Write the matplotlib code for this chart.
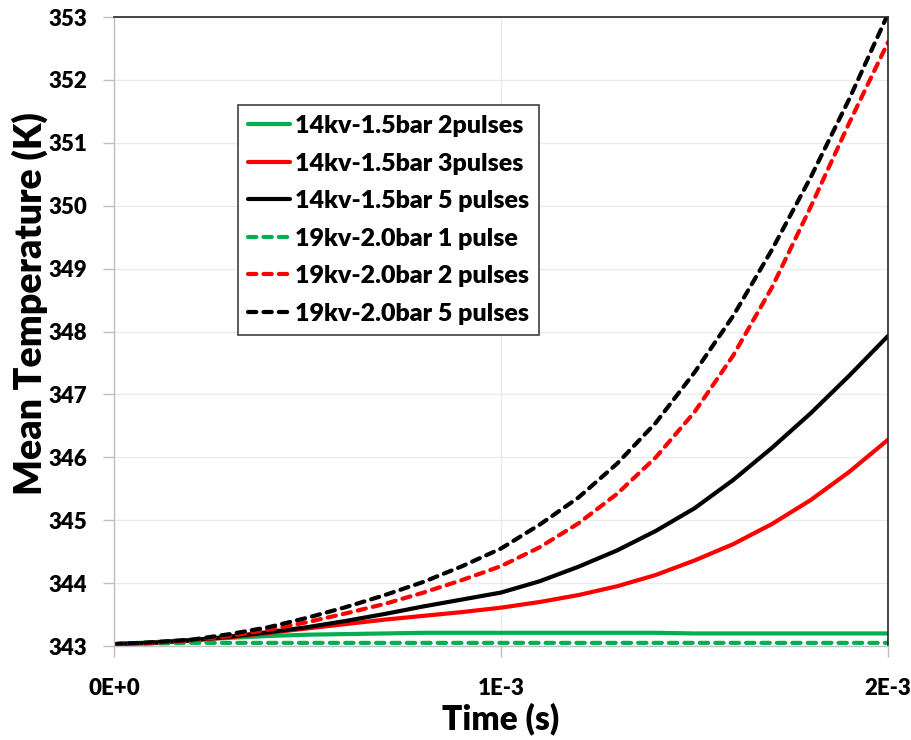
import matplotlib
matplotlib.use('Agg')
import matplotlib.pyplot as plt

plt.rcParams['font.family'] = ['Lato', 'DejaVu Sans']
plt.rcParams['font.weight'] = 'bold'

# time in ms (converted to s when plotting)
time_ms = [0.0, 0.1, 0.2, 0.3, 0.4, 0.5, 0.6, 0.7, 0.8, 0.9, 1.0,
           1.1, 1.2, 1.3, 1.4, 1.5, 1.6, 1.7, 1.8, 1.9, 2.0]

t14_2p = [343.03, 343.06, 343.10, 343.13, 343.16, 343.18, 343.19, 343.20,
          343.21, 343.21, 343.21, 343.21, 343.21, 343.21, 343.21, 343.20,
          343.20, 343.20, 343.20, 343.20, 343.20]
t14_3p = [343.03, 343.05, 343.09, 343.14, 343.21, 343.28, 343.35, 343.42,
          343.48, 343.54, 343.61, 343.70, 343.81, 343.95, 344.13, 344.36,
          344.62, 344.94, 345.32, 345.77, 346.28]
t14_5p = [343.03, 343.05, 343.09, 343.15, 343.22, 343.30, 343.40, 343.51,
          343.63, 343.74, 343.85, 344.03, 344.26, 344.52, 344.83, 345.19,
          345.64, 346.15, 346.70, 347.30, 347.93]
t19_1p = [343.03, 343.04, 343.05, 343.05, 343.05, 343.05, 343.05, 343.05,
          343.05, 343.05, 343.05, 343.05, 343.05, 343.05, 343.05, 343.05,
          343.05, 343.05, 343.05, 343.05, 343.05]
t19_2p = [343.03, 343.05, 343.09, 343.16, 343.26, 343.38, 343.52, 343.67,
          343.85, 344.05, 344.27, 344.57, 344.95, 345.42, 346.00, 346.72,
          347.62, 348.70, 349.98, 351.32, 352.60]
t19_5p = [343.03, 343.06, 343.10, 343.19, 343.30, 343.45, 343.62, 343.81,
          344.02, 344.27, 344.55, 344.93, 345.36, 345.90, 346.55, 347.35,
          348.25, 349.30, 350.45, 351.70, 353.05]

series = [
    ('14kv-1.5bar 2pulses', t14_2p, '#00B050', '-'),
    ('14kv-1.5bar 3pulses', t14_3p, '#FF0000', '-'),
    ('14kv-1.5bar 5 pulses', t14_5p, '#000000', '-'),
    ('19kv-2.0bar 1 pulse', t19_1p, '#00B050', '--'),
    ('19kv-2.0bar 2 pulses', t19_2p, '#FF0000', '--'),
    ('19kv-2.0bar 5 pulses', t19_5p, '#000000', '--'),
]

x_ticks = [0.0, 1e-3, 2e-3]
x_tick_labels = ['0E+0', '1E-3', '2E-3']
y_ticks = list(range(343, 354))

fig = plt.figure(figsize=(9.11, 7.4), dpi=100)
ax = fig.add_axes([0.1251, 0.127, 0.8497, 0.850])

t_s = [t * 1e-3 for t in time_ms]
for label, vals, color, ls in series:
    line, = ax.plot(t_s, vals, color=color, lw=3.0, label=label,
                    solid_capstyle='round', dash_capstyle='round',
                    solid_joinstyle='round')
    if ls == '--':
        line.set_dashes((2.0, 1.7))

ax.set_xlim(0, 2e-3)
ax.set_ylim(343, 353)
ax.set_xticks(x_ticks)
ax.set_xticklabels(x_tick_labels)
ax.set_yticks(y_ticks)

ax.grid(True, color='#EBEBEB', lw=1.0)
ax.set_axisbelow(True)

for side in ['left', 'bottom']:
    ax.spines[side].set_color('#BFBFBF')
    ax.spines[side].set_linewidth(1.0)
for side in ['top', 'right']:
    ax.spines[side].set_color('#262626')
    ax.spines[side].set_linewidth(1.2)

ax.tick_params(axis='both', direction='out', length=8, width=1,
               color='#BFBFBF', labelsize=16)
ax.tick_params(axis='y', pad=11)
ax.tick_params(axis='x', pad=15)
for lab in ax.get_xticklabels() + ax.get_yticklabels():
    lab.set_fontweight('heavy')

ax.set_xlabel('Time (s)', fontsize=24, fontweight='heavy')
ax.set_ylabel('Mean Temperature (K)', fontsize=27, fontweight='heavy')
ax.xaxis.set_label_coords(0.5, -0.09)
ax.yaxis.set_label_coords(-0.085, 0.545)

leg = ax.legend(loc='upper left', bbox_to_anchor=(0.16, 0.86),
                borderaxespad=0, fancybox=False, framealpha=1,
                edgecolor='#404040', handlelength=1.7,
                handletextpad=0.2, labelspacing=0.62, borderpad=0.4,
                prop={'weight': 'heavy', 'size': 18})
leg.get_frame().set_linewidth(1.2)

fig.savefig('out.png', dpi=100)
